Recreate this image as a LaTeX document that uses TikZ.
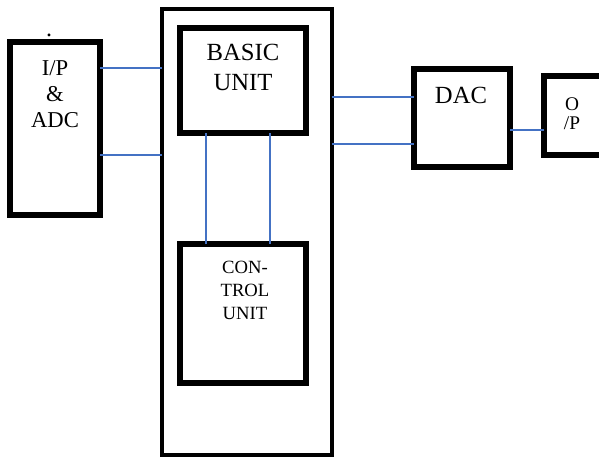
\documentclass[tikz,border=0pt]{standalone}
\usepackage{fontspec}
\setmainfont{Liberation Serif}
\definecolor{wireblue}{RGB}{68,114,196}
\begin{document}
\begin{tikzpicture}[x=0.75pt,y=-0.75pt,
  box/.style={draw=black,line width=3.8pt,rectangle,outer sep=0pt,inner sep=0pt},
  frame/.style={draw=black,line width=3.2pt,rectangle,outer sep=0pt,inner sep=0pt},
  wire/.style={draw=wireblue,line width=1.2pt},
  every node/.style={align=center}]
\useasboundingbox (0,0) rectangle (599,457);
\clip (0,0) rectangle (599,457);
\node[frame,minimum width=127.5pt,minimum height=334.5pt] (main) at (247,232) {};
\node[box,minimum width=67.5pt,minimum height=129.75pt] (ipadc) at (55,128.5) {};
\node[box,minimum width=94.5pt,minimum height=78.75pt] (basic) at (243,80.5) {};
\node[box,minimum width=94.5pt,minimum height=104.25pt] (control) at (243,313.5) {};
\node[box,minimum width=72pt,minimum height=73.5pt] (dac) at (462,118) {};
\node[box,minimum width=43.5pt,minimum height=59.25pt] (op) at (573,115.5) {};
% texts
\node[font=\fontsize{17}{19.5}\selectfont] (ipadctxt) at (55,94) {I/P\\\&\\ADC};
\node[font=\fontsize{18.5}{22}\selectfont] (basictxt) at (243,67.5) {BASIC\\UNIT};
\node[font=\fontsize{14}{17}\selectfont] (controltxt) at (245,290.5) {CON-\\TROL\\UNIT};
\node[font=\fontsize{18.5}{22}\selectfont] (dactxt) at (461,95) {DAC};
\node[font=\fontsize{14.5}{14}\selectfont] (optxt) at (572,114) {O\\/P};
\node[font=\fontsize{18}{18}\selectfont,inner sep=0pt] (dot) at (49,35) {.};
% wires
\draw[wire] (ipadc.east |- 0,68) -- (main.west |- 0,68);
\draw[wire] (ipadc.east |- 0,155) -- (main.west |- 0,155);
\draw[wire] (basic.south -| 206,0) -- (control.north -| 206,0);
\draw[wire] (basic.south -| 270,0) -- (control.north -| 270,0);
\draw[wire] (main.east |- 0,97) -- (dac.west |- 0,97);
\draw[wire] (main.east |- 0,144) -- (dac.west |- 0,144);
\draw[wire] (dac.east |- 0,130) -- (op.west |- 0,130);
\end{tikzpicture}
\end{document}
